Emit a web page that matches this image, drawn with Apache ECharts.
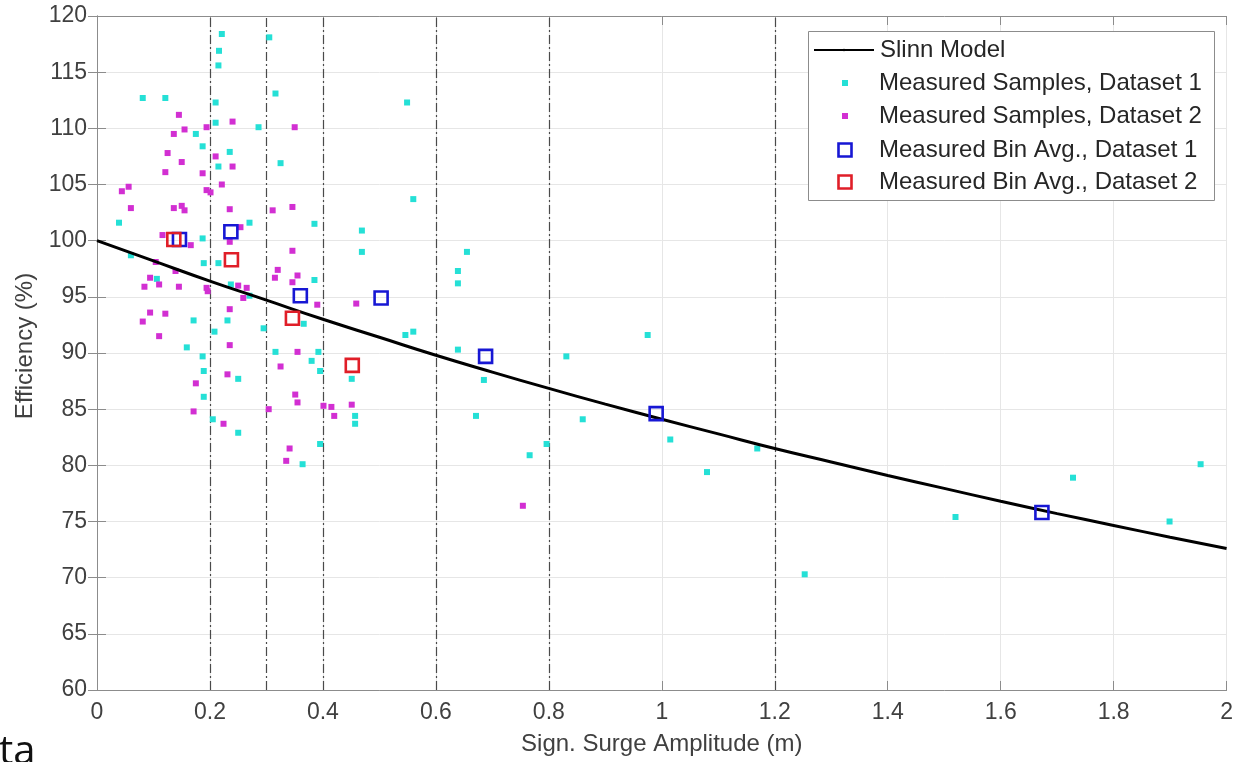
<!DOCTYPE html>
<html><head><meta charset="utf-8">
<script src="https://cdn.jsdelivr.net/npm/echarts@6/dist/echarts.min.js"></script>
<style>html,body{margin:0;padding:0;background:#fff}#c{width:1236px;height:762px}</style>
</head><body><div id="c"></div>
<script>
// ---- data ----
const xTicks = { min: 0, max: 2, interval: 0.2 };
const yTicks = { min: 60, max: 120, interval: 5 };
const binEdges = [0.2, 0.3, 0.4, 0.6, 0.8, 1.2];

const modelX = [0, 0.1, 0.2, 0.3, 0.4, 0.5, 0.6, 0.7, 0.8, 0.9, 1.0, 1.1, 1.2, 1.3, 1.4, 1.5, 1.6, 1.7, 1.8, 1.9, 2.0];
const modelY = [100, 98.2, 96.4, 94.7, 93.0, 91.4, 89.8, 88.3, 86.85, 85.45, 84.1, 82.8, 81.5, 80.3, 79.1, 77.95, 76.8, 75.7, 74.65, 73.6, 72.6];

const samples1 = [
  [0.221,118.4],[0.305,118.1],[0.216,116.9],[0.215,115.6],[0.081,112.7],[0.121,112.7],[0.210,112.3],[0.316,113.1],
  [0.549,112.3],[0.210,110.5],[0.286,110.1],[0.175,109.5],[0.187,108.4],[0.235,107.9],[0.215,106.6],[0.325,106.9],
  [0.039,101.6],[0.270,101.6],[0.187,100.2],[0.060,98.7],[0.189,98.0],[0.215,98.0],[0.106,96.6],[0.237,96.1],
  [0.270,95.1],[0.171,92.9],[0.231,92.9],[0.208,91.9],[0.295,92.2],
  [0.560,103.7],[0.385,101.5],[0.469,100.9],[0.469,99.0],[0.655,99.0],[0.639,97.3],[0.639,96.2],[0.385,96.5],
  [0.366,92.6],[0.546,91.6],[0.560,91.9],[0.639,90.3],
  [0.159,90.5],[0.187,89.7],[0.189,88.4],[0.250,87.7],[0.189,86.1],[0.205,84.1],[0.250,82.9],[0.316,90.1],
  [0.392,90.1],[0.380,89.3],[0.395,88.4],[0.451,87.7],[0.457,84.4],[0.457,83.7],[0.395,81.9],[0.364,80.1],
  [0.685,87.6],[0.671,84.4],
  [0.975,91.6],[0.831,89.7],[0.860,84.1],[1.015,82.3],[0.796,81.9],[0.766,80.9],[1.169,81.5],[1.080,79.4],
  [1.253,70.3],[1.520,75.4],[1.728,78.9],[1.899,75.0],[1.954,80.1]
];
const samples2 = [
  [0.145,111.2],[0.240,110.6],[0.350,110.1],[0.136,109.5],[0.155,109.9],[0.194,110.1],[0.125,107.8],[0.150,107.0],
  [0.210,107.5],[0.240,106.6],[0.121,106.1],[0.187,106.0],[0.221,105.0],
  [0.056,104.8],[0.044,104.4],[0.194,104.5],[0.201,104.3],[0.060,102.9],[0.136,102.9],[0.150,103.1],[0.155,102.7],
  [0.235,102.8],[0.311,102.7],[0.346,103.0],[0.254,101.2],[0.116,100.5],[0.166,99.6],[0.235,99.9],[0.104,98.1],
  [0.139,97.3],[0.094,96.7],[0.320,97.4],[0.315,96.7],[0.084,95.9],[0.110,96.1],[0.145,95.9],[0.194,95.8],
  [0.196,95.5],[0.250,96.0],[0.265,95.8],[0.346,96.3],[0.259,94.9],[0.235,93.9],[0.094,93.6],[0.121,93.5],
  [0.081,92.8],[0.110,91.5],[0.235,90.7],
  [0.346,99.1],[0.355,96.9],[0.390,94.3],[0.459,94.4],
  [0.325,88.8],[0.231,88.1],[0.175,87.3],[0.171,84.8],[0.224,83.7],[0.304,85.0],[0.355,90.1],[0.351,86.3],
  [0.355,85.6],[0.401,85.3],[0.415,85.2],[0.451,85.4],[0.420,84.4],[0.341,81.5],[0.335,80.4],
  [0.754,76.4]
];
const binAvg1 = [[0.146,100.1],[0.237,100.8],[0.360,95.1],[0.503,94.9],[0.688,89.7],[0.990,84.6],[1.673,75.8]];
const binAvg2 = [[0.136,100.1],[0.238,98.3],[0.346,93.1],[0.452,88.9]];

const seriesNames = ['Slinn Model', 'Measured Samples, Dataset 1', 'Measured Samples, Dataset 2',
                     'Measured Bin Avg., Dataset 1', 'Measured Bin Avg., Dataset 2'];
const xTitle = 'Sign. Surge Amplitude (m)';
const yTitle = 'Efficiency (%)';

// ---- styles ----
const FONT = "'Liberation Sans', Arial, Helvetica, sans-serif";
const C_CYAN = '#25e0d6', C_MAG = '#d22fd2', C_BLUE = '#1717d4', C_RED = '#e01e28';
const AXIS_C = '#8c8c8c', TXT_C = '#404040', GRID_C = '#e6e6e6';

const chart = echarts.init(document.getElementById('c'), null, { renderer: 'canvas' });

const legendRows = [
  { name: seriesNames[0], cy: 50, kind: 'line' },
  { name: seriesNames[1], cy: 83, kind: 'dot', color: C_CYAN },
  { name: seriesNames[2], cy: 116, kind: 'dot', color: C_MAG },
  { name: seriesNames[3], cy: 150, kind: 'box', color: C_BLUE },
  { name: seriesNames[4], cy: 182, kind: 'box', color: C_RED }
];
const LEG_X = 813, ICON_CX = 845;
const legends = legendRows.map(r => {
  const item = { name: r.name };
  if (r.kind !== 'line') { item.icon = 'rect'; item.itemStyle = { color: 'rgba(0,0,0,0)', borderWidth: 0 }; }
  return {
    show: true, left: LEG_X, top: r.cy - 13, padding: 0, z: 10,
    itemWidth: 60, itemHeight: r.kind === 'line' ? 3 : 10, selectedMode: false,
    textStyle: { fontFamily: FONT, fontSize: 24, color: '#262626', lineHeight: 26, padding: [0, 0, 0, 1] },
    data: [item]
  };
});
const legendIcons = legendRows.filter(r => r.kind !== 'line').map(r => {
  if (r.kind === 'dot') {
    return { type: 'rect', z: 11, x: ICON_CX - 3, y: r.cy - 3, shape: { width: 6, height: 6 },
             style: { fill: r.color } };
  }
  return { type: 'rect', z: 11, x: ICON_CX - 6.5, y: r.cy - 6.5, shape: { width: 13, height: 13 },
           style: { fill: 'none', stroke: r.color, lineWidth: 2.6 } };
});

const axisCommon = {
  type: 'value',
  axisLine: { show: true, lineStyle: { color: AXIS_C, width: 1 } },
  axisTick: { show: true, inside: true, length: 9, lineStyle: { color: AXIS_C } },
  splitLine: { show: false },
  axisLabel: { show: false }
};

const option = {
  animation: false,
  backgroundColor: '#fff',
  grid: { left: 97, right: 6, top: 16, bottom: 72, containLabel: false },
  legend: legends,
  xAxis: [
    Object.assign({}, axisCommon, {
      min: xTicks.min, max: xTicks.max, interval: xTicks.interval, position: 'bottom',
      splitLine: { show: true, lineStyle: { color: GRID_C, width: 1 } },
      axisLabel: { show: true, fontFamily: FONT, fontSize: 23, color: TXT_C, margin: 11 },
      name: xTitle, nameLocation: 'middle', nameGap: 42,
      nameTextStyle: { fontFamily: FONT, fontSize: 24, color: TXT_C }
    }),
    Object.assign({}, axisCommon, {
      min: xTicks.min, max: xTicks.max, interval: xTicks.interval, position: 'top'
    })
  ],
  yAxis: [
    Object.assign({}, axisCommon, {
      min: yTicks.min, max: yTicks.max, interval: yTicks.interval, position: 'left',
      splitLine: { show: true, lineStyle: { color: GRID_C, width: 1 } },
      axisLabel: { show: true, fontFamily: FONT, fontSize: 23, color: TXT_C, margin: 10 },
      name: yTitle, nameLocation: 'middle', nameGap: 53, nameRotate: 90,
      nameTextStyle: { fontFamily: FONT, fontSize: 24, color: TXT_C, padding: [0, 0, 0, 14] }
    }),
    Object.assign({}, axisCommon, {
      min: yTicks.min, max: yTicks.max, interval: yTicks.interval, position: 'right'
    })
  ],
  graphic: [
    { type: 'rect', z: 5, left: 808, top: 31, shape: { width: 406, height: 169 },
      style: { fill: '#fff', stroke: '#8c8c8c', lineWidth: 1 } },
    { type: 'text', z: 5, left: -1, top: 733,
      style: { text: 'ta', fontFamily: "'Open Sans', 'DejaVu Sans', sans-serif", fontSize: 40, fill: '#111' } }
  ].concat(legendIcons),
  series: [
    {
      name: seriesNames[0], type: 'line', xAxisIndex: 0, yAxisIndex: 0,
      data: modelX.map((x, i) => [x, modelY[i]]),
      smooth: true, symbol: 'none', z: 3,
      lineStyle: { color: '#000', width: 3 }, itemStyle: { color: '#000' },
      markLine: {
        silent: true, symbol: 'none', z: 1,
        label: { show: false },
        lineStyle: { color: '#4a4a4a', width: 1.2, type: [9, 3, 2, 3] },
        data: binEdges.map(v => ({ xAxis: v }))
      }
    },
    {
      name: seriesNames[1], type: 'scatter', data: samples1, symbol: 'rect', symbolSize: 6, z: 2,
      itemStyle: { color: C_CYAN, opacity: 1 }
    },
    {
      name: seriesNames[2], type: 'scatter', data: samples2, symbol: 'rect', symbolSize: 6, z: 2,
      itemStyle: { color: C_MAG, opacity: 1 }
    },
    {
      name: seriesNames[3], type: 'scatter', data: binAvg1, symbol: 'rect', symbolSize: 13, z: 4,
      itemStyle: { color: 'rgba(0,0,0,0)', borderColor: C_BLUE, borderWidth: 2.6, opacity: 1 }
    },
    {
      name: seriesNames[4], type: 'scatter', data: binAvg2, symbol: 'rect', symbolSize: 13, z: 4,
      itemStyle: { color: 'rgba(0,0,0,0)', borderColor: C_RED, borderWidth: 2.6, opacity: 1 }
    }
  ]
};
chart.setOption(option);
</script>
</body></html>
